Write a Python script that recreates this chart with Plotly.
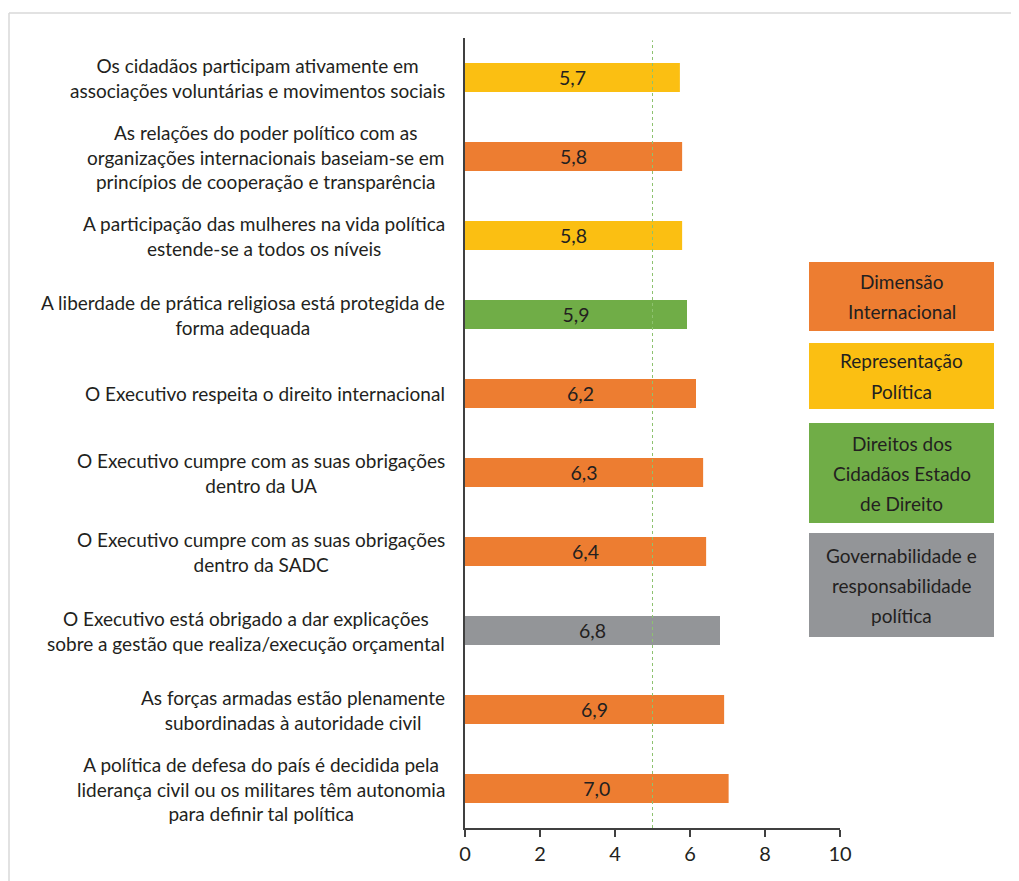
import plotly.graph_objects as go

categories = [
    "Os cidadãos participam ativamente em<br>associações voluntárias e movimentos sociais",
    "As relações do poder político com as<br>organizações internacionais baseiam-se em<br>princípios de cooperação e transparência",
    "A participação das mulheres na vida política<br>estende-se a todos os níveis",
    "A liberdade de prática religiosa está protegida de<br>forma adequada",
    "O Executivo respeita o direito internacional",
    "O Executivo cumpre com as suas obrigações<br>dentro da UA",
    "O Executivo cumpre com as suas obrigações<br>dentro da SADC",
    "O Executivo está obrigado a dar explicações<br>sobre a gestão que realiza/execução orçamental",
    "As forças armadas estão plenamente<br>subordinadas à autoridade civil",
    "A política de defesa do país é decidida pela<br>liderança civil ou os militares têm autonomia<br>para definir tal política",
]
values = [5.73, 5.79, 5.79, 5.92, 6.16, 6.35, 6.43, 6.80, 6.91, 7.03]
value_labels = ["5,7", "5,8", "5,8", "5,9", "6,2", "6,3", "6,4", "6,8", "6,9", "7,0"]
groups = [
    "Representação Política",
    "Dimensão Internacional",
    "Representação Política",
    "Direitos dos Cidadãos Estado de Direito",
    "Dimensão Internacional",
    "Dimensão Internacional",
    "Dimensão Internacional",
    "Governabilidade e responsabilidade política",
    "Dimensão Internacional",
    "Dimensão Internacional",
]
legend_names = [
    "Dimensão Internacional",
    "Representação Política",
    "Direitos dos Cidadãos Estado de Direito",
    "Governabilidade e responsabilidade política",
]
legend_lines = [
    ["Dimensão", "Internacional"],
    ["Representação", "Política"],
    ["Direitos dos", "Cidadãos Estado", "de Direito"],
    ["Governabilidade e", "responsabilidade", "política"],
]
group_colors = {
    "Dimensão Internacional": "#ED7D31",
    "Representação Política": "#FBBF12",
    "Direitos dos Cidadãos Estado de Direito": "#70AD47",
    "Governabilidade e responsabilidade política": "#939598",
}
reference_value = 5
x_ticks = [0, 2, 4, 6, 8, 10]

FONT = "Lato"
TXT = "#231F20"
OFF = 8  # page body margin
W, H = 1019 - OFF, 881 - OFF
L, R, T, B = 465 - OFF, 840 - OFF, 38 - OFF, 828 - OFF  # plot area in figure px

fig = go.Figure()
ids = list(range(len(categories)))
fig.add_trace(go.Bar(
    y=ids, x=values, orientation="h",
    marker=dict(color=[group_colors[g] for g in groups], line=dict(width=0)),
    text=value_labels, textposition="inside", insidetextanchor="middle",
    textfont=dict(family=FONT, size=21, color=TXT),
    hoverinfo="skip", showlegend=False,
))

fig.add_shape(type="line", xref="x", yref="paper", x0=reference_value, x1=reference_value,
              y0=0, y1=0.997, line=dict(color="#8DC26F", width=1, dash="dot"))


def px_x(p):
    return (p - OFF - L) / (R - L)


def px_y(p):
    return (B - (p - OFF)) / (B - T)


# outer border (top and left edges visible)
fig.add_shape(type="line", xref="paper", yref="paper",
              x0=px_x(9), x1=px_x(1030), y0=px_y(13), y1=px_y(13),
              line=dict(color="#D9D9D9", width=1.5), layer="below")
fig.add_shape(type="line", xref="paper", yref="paper",
              x0=px_x(9), x1=px_x(9), y0=px_y(13), y1=px_y(900),
              line=dict(color="#D9D9D9", width=1.5), layer="below")

for i, c in enumerate(categories):
    fig.add_annotation(xref="paper", yref="y", x=px_x(447), y=i, text=c,
                       xanchor="right", yanchor="middle", align="center", showarrow=False,
                       font=dict(family=FONT, size=19, color=TXT))

# legend boxes
boxes = [(262, 331), (343, 409), (423, 523), (533, 637)]
for name, lines, (y0, y1) in zip(legend_names, legend_lines, boxes):
    fig.add_shape(type="rect", xref="paper", yref="paper",
                  x0=px_x(809), x1=px_x(994), y0=px_y(y1), y1=px_y(y0),
                  fillcolor=group_colors[name], line=dict(width=0))
    n = len(lines)
    cy = (y0 + y1) / 2
    for k, ln in enumerate(lines):
        ly = cy + (k - (n - 1) / 2) * 30
        fig.add_annotation(xref="paper", yref="paper", x=px_x(901.5), y=px_y(ly), text=ln,
                           xanchor="center", yanchor="middle", showarrow=False,
                           font=dict(family=FONT, size=19, color=TXT))

fig.update_layout(
    width=W, height=H,
    margin=dict(l=L, r=W - R, t=T, b=H - B),
    plot_bgcolor="white", paper_bgcolor="white",
    bargap=0.63,
    showlegend=False,
    font=dict(family=FONT, size=19, color=TXT),
)
fig.update_xaxes(range=[0, 10], tickvals=x_ticks, ticktext=[str(v) for v in x_ticks],
                 showgrid=False, zeroline=False, showline=True, linecolor="#404040", linewidth=1.5,
                 ticks="outside", ticklen=7, tickcolor="#404040", tickwidth=1.5,
                 tickfont=dict(family=FONT, size=20, color=TXT))
fig.update_yaxes(range=[len(categories) - 0.5, -0.5], showticklabels=False, showgrid=False,
                 zeroline=False, showline=True, linecolor="#404040", linewidth=1.5, ticks="")

fig.write_html("out.html")
